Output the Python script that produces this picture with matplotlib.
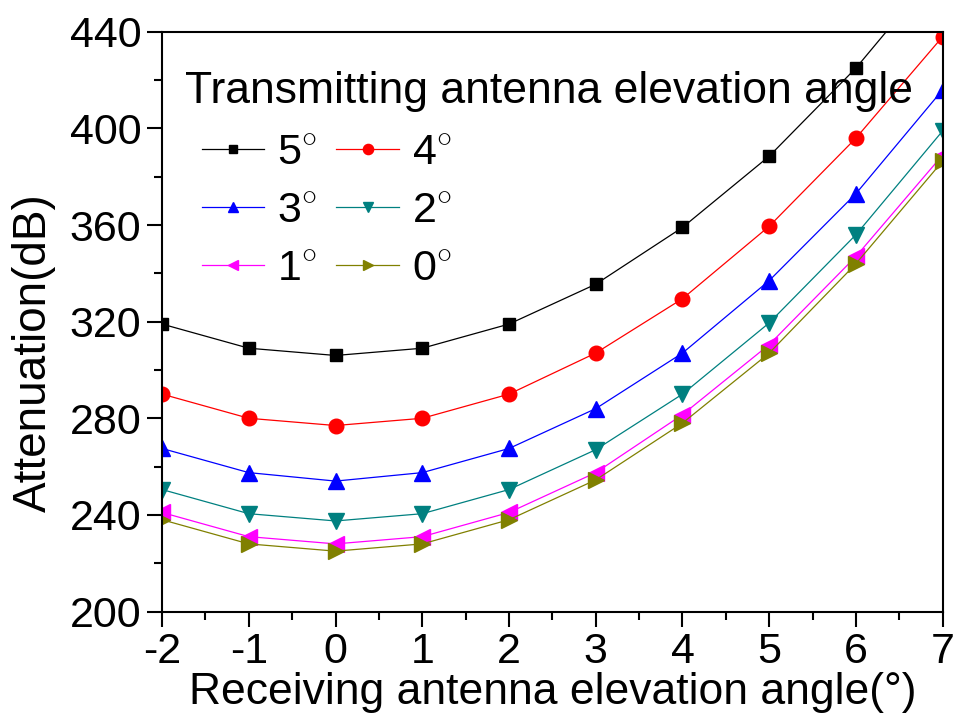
import matplotlib
matplotlib.use('Agg')
import matplotlib.pyplot as plt
from matplotlib.ticker import MultipleLocator

plt.rcParams['font.family'] = ['Liberation Sans', 'DejaVu Sans']
plt.rcParams['mathtext.fontset'] = 'custom'
plt.rcParams['mathtext.rm'] = 'Liberation Sans'
plt.rcParams['axes.unicode_minus'] = False

# receiving antenna elevation angle (deg)
rx_angle = [-2, -1, 0, 1, 2, 3, 4, 5, 6, 7]

# attenuation (dB) for each transmitting elevation angle
att_5 = [319, 309, 306, 309, 319, 335.5, 359, 388.5, 425, 468]
att_4 = [290, 280, 277, 280, 290, 307, 329.5, 359.5, 396, 438]
att_3 = [267.5, 257.5, 254, 257.5, 267.5, 284, 307, 337, 373, 416]
att_2 = [250.5, 240.5, 237.5, 240.5, 250.5, 267, 290, 319.5, 356, 399]
att_1 = [241, 231, 228, 231, 241, 257.5, 281.5, 310.5, 347, 389]
att_0 = [238, 228, 225, 228, 238, 254.5, 278, 307, 344, 386.5]

labels = ['5$^{\\circ}$', '4$^{\\circ}$', '3$^{\\circ}$',
          '2$^{\\circ}$', '1$^{\\circ}$', '0$^{\\circ}$']
colors = ['black', '#FF0000', '#0000FF', '#008080', '#FF00FF', '#808000']
markers = ['s', 'o', '^', 'v', '<', '>']
sizes = [9, 10.5, 11, 11, 11, 11]
series = [att_5, att_4, att_3, att_2, att_1, att_0]

fig = plt.figure(figsize=(9.59, 7.22), dpi=100)
ax = fig.add_axes([0.169, 0.153, 0.814, 0.803])

lines = []
for vals, lab, c, m, s in zip(series, labels, colors, markers, sizes):
    ln, = ax.plot(rx_angle, vals, color=c, marker=m, markersize=s, linewidth=0.9,
                  label=lab)
    lines.append(ln)

ax.set_xlim(-2, 7)
ax.set_ylim(200, 440)
ax.xaxis.set_major_locator(MultipleLocator(1))
ax.xaxis.set_minor_locator(MultipleLocator(0.5))
ax.yaxis.set_major_locator(MultipleLocator(40))
ax.yaxis.set_minor_locator(MultipleLocator(20))
ax.tick_params(which='major', direction='out', length=11, width=1.5, labelsize=31, pad=4)
ax.tick_params(which='minor', direction='out', length=6, width=1.5)
for sp in ax.spines.values():
    sp.set_linewidth(1.5)

ax.set_xlabel('Receiving antenna elevation angle(\u00b0)', fontsize=32, labelpad=0)
ax.set_ylabel('Attenuation(dB)', fontsize=33)
ax.yaxis.set_label_coords(-0.136, 0.446)

# legend title as its own text so it can sit left of the handles
ax.text(0.029, 0.897, 'Transmitting antenna elevation angle', transform=ax.transAxes,
        fontsize=32, ha='left', va='center')

# legend filled column-wise: 5,3,1 | 4,2,0
order = [0, 2, 4, 1, 3, 5]
leg = ax.legend([lines[i] for i in order], [labels[i] for i in order],
                ncol=2, loc='upper left', frameon=False, fontsize=31,
                markerscale=0.7, handlelength=1.45, handletextpad=0.3,
                columnspacing=0.45, labelspacing=0.42,
                bbox_to_anchor=(0.051, 0.825), borderaxespad=0, borderpad=0)

fig.savefig('out.png', dpi=100)
